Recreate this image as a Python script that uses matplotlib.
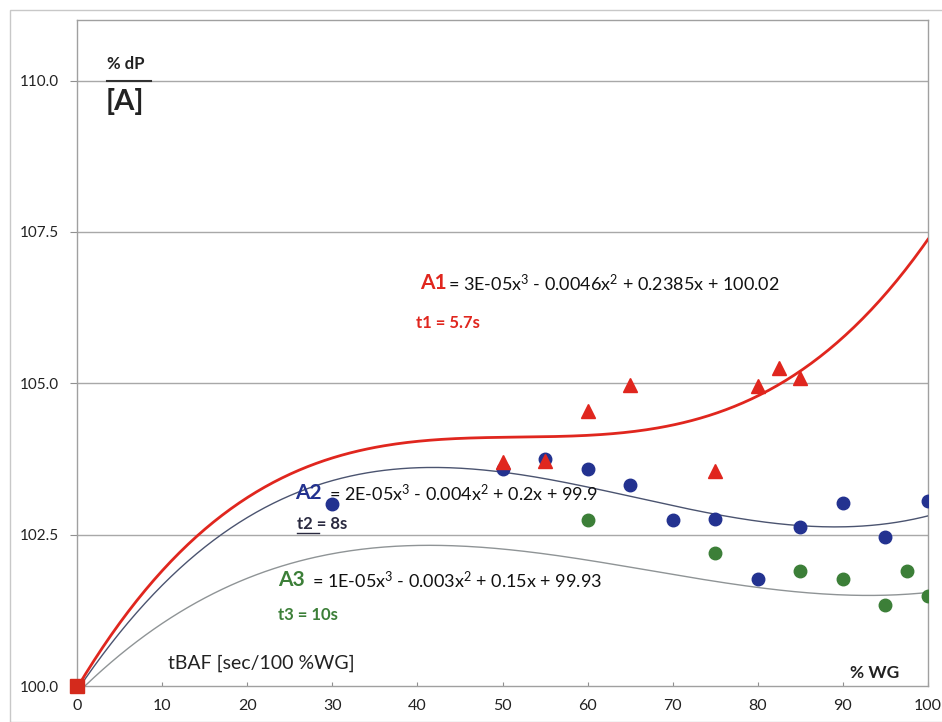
import numpy as np
import matplotlib
matplotlib.use("Agg")
import matplotlib.pyplot as plt
from matplotlib.patches import Rectangle

plt.rcParams["font.family"] = ["Lato", "DejaVu Sans"]
plt.rcParams["mathtext.fontset"] = "custom"
plt.rcParams["mathtext.rm"] = "Lato"
plt.rcParams["mathtext.it"] = "Lato:italic"
plt.rcParams["mathtext.bf"] = "Lato:bold"

# measured points (x = % WG, y = % dP)
a1_x = [50, 55, 60, 65, 75, 80, 82.5, 85]
a1_y = [103.70, 103.72, 104.54, 104.97, 103.55, 104.96, 105.26, 105.09]
a2_x = [30, 50, 55, 60, 65, 70, 75, 80, 85, 90, 95, 100]
a2_y = [103.0, 103.59, 103.75, 103.59, 103.32, 102.75, 102.76, 101.77, 102.62, 103.03, 102.46, 103.05]
a3_x = [60, 75, 85, 90, 95, 97.5, 100]
a3_y = [102.75, 102.20, 101.90, 101.77, 101.34, 101.90, 101.49]
origin = (0, 100.0)

# trendline values
trend_x = [0, 10, 20, 30, 40, 50, 60, 70, 80, 90, 100]
trend_a1 = [100.0, 101.85, 103.12, 103.75, 104.05, 104.13, 104.16, 104.28, 104.87, 105.62, 107.44]
trend_a2 = [100.0, 101.50, 102.85, 103.40, 103.58, 103.55, 103.37, 102.96, 102.66, 102.60, 102.85]
trend_a3 = [100.0, 100.85, 101.70, 102.25, 102.40, 102.32, 102.08, 101.83, 101.56, 101.45, 101.61]

yticks = [100.0, 102.5, 105.0, 107.5, 110.0]
xticks = list(range(0, 101, 10))

RED = "#e0261e"
NAVY = "#233290"
GREEN = "#3c7f38"

fig = plt.figure(figsize=(9.42, 7.22), dpi=100)
fig.patches.append(Rectangle((10 / 942, 0), 1.0, 1 - 10 / 722, transform=fig.transFigure,
                             fill=False, edgecolor="#c8c8c8", linewidth=1.0))
ax = fig.add_axes([77 / 942, 36 / 722, 851 / 942, 666 / 722])

xs = np.linspace(0, 100, 300)
for vals, col, lw in [(trend_a3, "#8f9496", 1.0), (trend_a2, "#4b5470", 1.0), (trend_a1, RED, 2.0)]:
    coef = np.polyfit(trend_x, vals, 3)
    ax.plot(xs, np.polyval(coef, xs), color=col, linewidth=lw, zorder=3)

ax.plot(a2_x, a2_y, "o", color=NAVY, markersize=9, zorder=4)
ax.plot(a3_x, a3_y, "o", color=GREEN, markersize=9, zorder=4)
ax.plot(a1_x, a1_y, "^", color=RED, markersize=10, zorder=5)
ax.plot([origin[0]], [origin[1]], "s", color="#d42a1c", markersize=10, zorder=6, clip_on=False)

ax.set_xlim(0, 100)
ax.set_ylim(100, 111)
ax.set_yticks(yticks)
ax.set_yticklabels([f"{v:.1f}" for v in yticks])
ax.set_xticks(xticks)
ax.tick_params(axis="y", length=5, color="#909090", labelsize=11, pad=8)
ax.tick_params(axis="x", direction="in", length=3, color="#909090", labelsize=11.5, pad=9)
for t in ax.get_xticklabels() + ax.get_yticklabels():
    t.set_color("#222222")
for y in yticks[1:]:
    ax.axhline(y, color="#a8a8a8", linewidth=1.0, zorder=1)
for s in ax.spines.values():
    s.set_color("#a0a0a0")
    s.set_linewidth(1.0)

# equations and labels
ax.text(40.3, 106.65, "A1", color=RED, fontsize=15, fontweight="bold", va="center")
ax.text(43.6, 106.65, "= 3E-05x$^3$ - 0.0046x$^2$ + 0.2385x + 100.02", color="#111111", fontsize=13, va="center")
ax.text(39.8, 106.0, "t1 = 5.7s", color=RED, fontsize=12, fontweight="bold", va="center")

ax.text(25.6, 103.18, "A2", color=NAVY, fontsize=15, fontweight="bold", va="center")
ax.text(29.6, 103.18, "= 2E-05x$^3$ - 0.004x$^2$ + 0.2x + 99.9", color="#111111", fontsize=13, va="center")
ax.text(25.9, 102.67, "t2 = 8s", color="#2a2a40", fontsize=12, fontweight="bold", va="center")
ax.plot([25.9, 28.4], [102.52, 102.52], color="#2a2a40", linewidth=1.0, zorder=3)

ax.text(23.6, 101.75, "A3", color=GREEN, fontsize=15, fontweight="bold", va="center")
ax.text(27.6, 101.75, "= 1E-05x$^3$ - 0.003x$^2$ + 0.15x + 99.93", color="#111111", fontsize=13, va="center")
ax.text(23.6, 101.17, "t3 = 10s", color=GREEN, fontsize=12, fontweight="bold", va="center")

ax.text(10.7, 100.38, "tBAF [sec/100 %WG]", color="#222222", fontsize=14, va="center")
ax.text(90.8, 100.22, "% WG", color="#222222", fontsize=12.5, fontweight="bold", va="center")

ax.text(3.5, 110.27, "% dP", color="#222222", fontsize=12, fontweight="bold", va="center")
ax.plot([3.5, 8.7], [110.0, 110.0], color="#333333", linewidth=1.5, zorder=3)
ax.text(3.4, 109.66, "[A]", color="#222222", fontsize=21, fontweight="bold", va="center")

fig.savefig("out.png", dpi=100)
